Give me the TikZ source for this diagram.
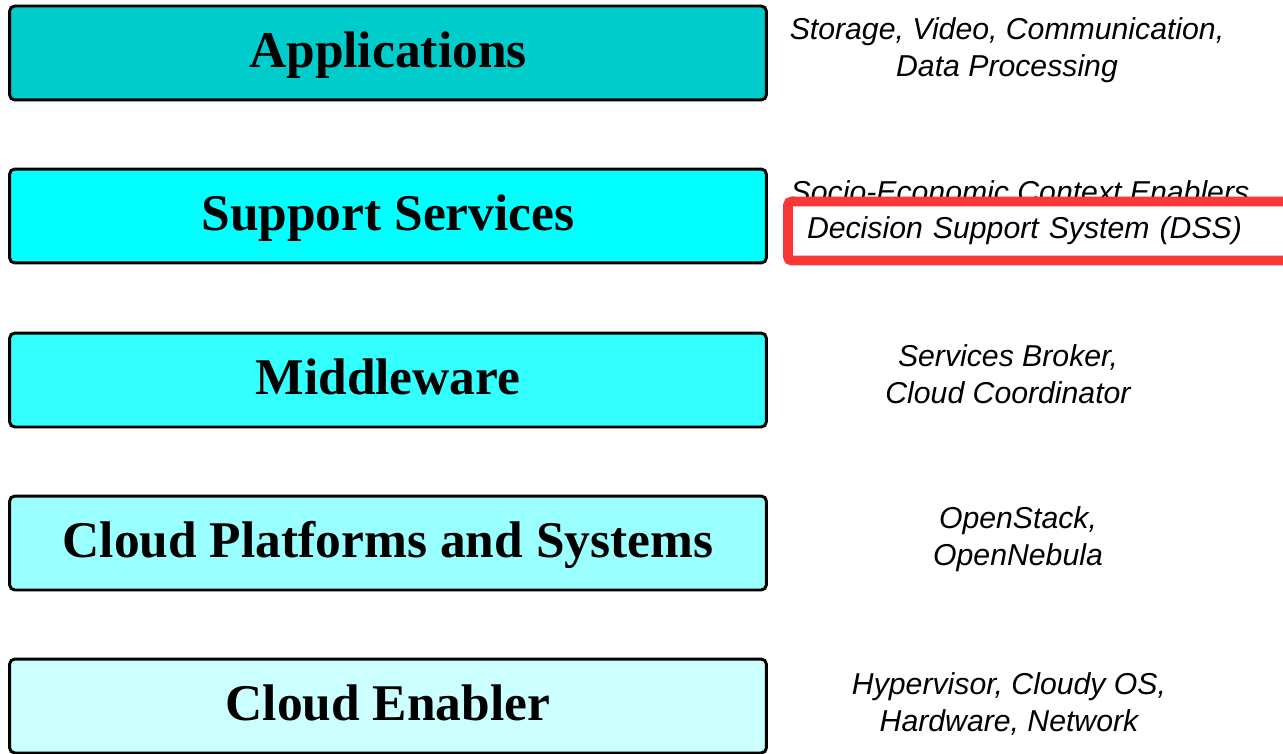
\documentclass[tikz,border=0pt]{standalone}
\usepackage{fontspec}
\setmainfont{Liberation Serif}
\setsansfont{Liberation Sans}
\definecolor{appcol}{RGB}{0,204,204}
\definecolor{supcol}{RGB}{0,255,255}
\definecolor{midcol}{RGB}{51,255,255}
\definecolor{platcol}{RGB}{153,255,255}
\definecolor{enabcol}{RGB}{204,255,255}
\definecolor{markred}{RGB}{250,55,55}
\begin{document}
\begin{tikzpicture}[x=0.02cm, y=-0.02cm,
    layer/.style={draw=black, line width=1.7pt, rounded corners=3pt, minimum width=15.14cm, minimum height=1.88cm, inner sep=0pt, text height=23pt, text depth=6pt, font=\fontsize{29.3}{34}\selectfont\bfseries},
    note/.style={align=center, inner sep=0pt, font=\fontsize{17.2}{21}\selectfont\sffamily\itshape}]
    \useasboundingbox (0,0) rectangle (1283,753);

    % Layers
    \node[layer, fill=appcol] (apps) at (388,53) {Applications};
    \node[layer, fill=supcol] (support) at (388,216) {Support Services};
    \node[layer, fill=midcol] (middle) at (388,380) {Middleware};
    \node[layer, fill=platcol] (platforms) at (388,543) {Cloud Platforms and Systems};
    \node[layer, fill=enabcol] (enabler) at (388,706) {Cloud Enabler};

    % Notes
    \node[note] (appsnote) at (1007,50) {Storage, Video, Communication,\\Data Processing};
    \node[note] (supportnote) at (1020,192) {Socio-Economic Context Enablers};
    \node[note] (middlenote) at (1008,374) {Services Broker,\\Cloud Coordinator};
    \node[note] (platformsnote) at (1018,539) {OpenStack,\\OpenNebula};
    \node[note] (enablernote) at (1009,704) {Hypervisor, Cloudy OS,\\Hardware, Network};

    % Highlight
    \node[note, anchor=west, draw=markred, fill=white, line width=5.5pt, outer sep=0pt, rounded corners=2pt,
        minimum height=1.18cm, text width=9.28cm, align=left, inner xsep=0.38cm] (dss) at (788,231) {Decision Support System (DSS)};
\end{tikzpicture}
\end{document}
